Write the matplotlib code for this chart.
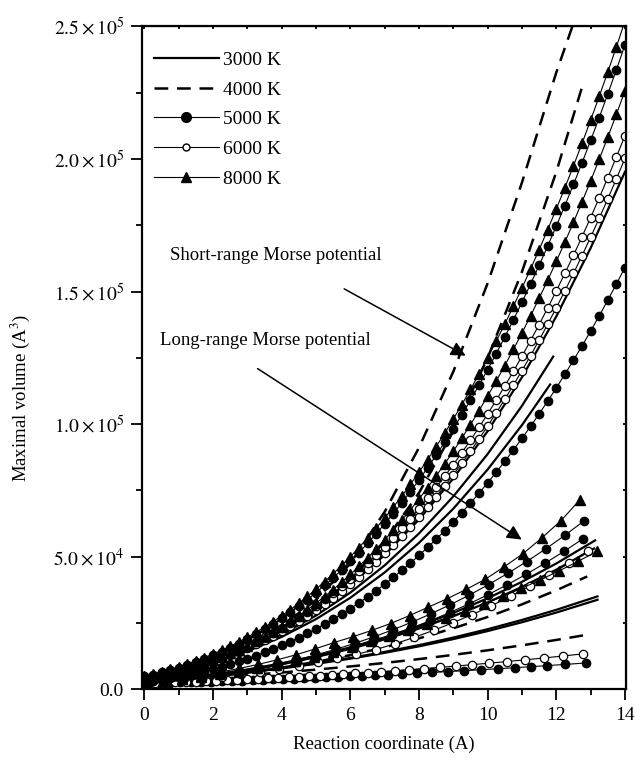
import numpy as np
import matplotlib.pyplot as plt
from matplotlib.lines import Line2D

plt.rcParams['font.family'] = ['Liberation Serif', 'DejaVu Serif']
plt.rcParams['mathtext.fontset'] = 'stix'

# ---------------- data ----------------
# short-range Morse potential (upper bundle)
x_up = np.arange(0, 14.01, 0.25)

up_tri_1 = [5000, 5757, 6587, 7492, 8477, 9545, 10699, 11942, 13278, 14711, 16242, 17877,
            19617, 21468, 23431, 25510, 27708, 30029, 32477, 35054, 37764, 40610, 43595,
            46724, 49999, 53423, 57000, 60733, 64626, 68682, 72904, 77295, 81860, 86600,
            91520, 96623, 101913, 107392, 113064, 118932, 125000, 131271, 137748, 144435,
            151334, 158448, 165786, 173345, 181130, 189144, 197391, 205876, 214599, 223566,
            232779, 242243, 251957]
up_fill_1 = [4827, 5557, 6357, 7231, 8181, 9212, 10325, 11524, 12813, 14195, 15672, 17248,
             18927, 20712, 22605, 24610, 26731, 28970, 31330, 33816, 36429, 39174, 42053,
             45070, 48229, 51531, 54980, 58580, 62335, 66246, 70317, 74552, 78954, 83525,
             88270, 93191, 98291, 103575, 109044, 114703, 120554, 126601, 132846, 139294,
             145947, 152809, 159882, 167170, 174677, 182405, 190358, 198536, 206949, 215595,
             224478, 233603, 242971]
up_tri_2 = [3944, 4578, 5277, 6044, 6881, 7792, 8780, 9849, 11000, 12239, 13566, 14987,
            16503, 18119, 19837, 21659, 23590, 25633, 27790, 30066, 32462, 34982, 37629,
            40407, 43317, 46365, 49552, 52882, 56358, 59983, 63760, 67693, 71784, 76036,
            80454, 85039, 89795, 94725, 99833, 105121, 110592, 116250, 122098, 128138,
            134375, 140811, 147449, 154293, 161344, 168608, 176087, 183787, 191701, 199843,
            208211, 216811, 225644]
up_open_1 = [4252, 4887, 5583, 6342, 7167, 8060, 9025, 10064, 11179, 12375, 13652, 15014,
             16465, 18005, 19639, 21369, 23198, 25128, 27162, 29304, 31554, 33918, 36396,
             38993, 41710, 44550, 47517, 50612, 53839, 57200, 60698, 64336, 68117, 72043,
             76117, 80342, 84720, 89255, 93948, 98803, 103823, 109010, 114367, 119896,
             125601, 131484, 137548, 143795, 150230, 156852, 163667, 170677, 177884, 185291,
             192900, 200715, 208739]
up_open_2 = [3944, 4543, 5200, 5918, 6698, 7544, 8458, 9444, 10503, 11639, 12854, 14151,
             15531, 16999, 18557, 20207, 21952, 23795, 25738, 27784, 29935, 32195, 34566,
             37051, 39652, 42371, 45213, 48179, 51272, 54494, 57848, 61338, 64965, 68732,
             72642, 76698, 80902, 85257, 89765, 94429, 99253, 104238, 109387, 114703,
             120188, 125846, 131678, 137688, 143878, 150251, 156809, 163555, 170492, 177623,
             184949, 192474, 200202]
up_fill_low = [2744, 3188, 3677, 4214, 4801, 5440, 6133, 6884, 7692, 8562, 9494, 10493,
               11558, 12694, 13902, 15184, 16542, 17980, 19498, 21099, 22785, 24560, 26424,
               28380, 30430, 32576, 34822, 37168, 39617, 42171, 44834, 47605, 50489, 53487,
               56601, 59834, 63188, 66664, 70266, 73995, 77854, 81846, 85971, 90232, 94632,
               99172, 103856, 108685, 113661, 118787, 124065, 129497, 135085, 140831, 146738,
               152809, 159044]

x_dash_a = [0, 1, 2, 3, 4, 5, 6, 7, 8, 9, 10, 11, 12, 12.6]
up_dash_a = [4492, 7415, 11391, 16777, 23888, 33698, 47438, 66923, 91125, 119823, 153130,
             191103, 232608, 254840]
x_dash_b = [0, 1, 2, 3, 4, 5, 6, 7, 8, 9, 10, 11, 12, 12.8]
up_dash_b = [4492, 7301, 11090, 16003, 22188, 30371, 41422, 55742, 74088, 97336, 125000,
             157464, 195112, 229225]
x_solid_1 = [0, 1, 2, 3, 4, 5, 6, 7, 8, 9, 10, 11, 12, 13, 14]
up_solid_1 = [4096, 6859, 10648, 15625, 21952, 29791, 39304, 50653, 64000, 79507, 97336,
              117649, 140608, 166375, 195112]
x_solid_2 = [0, 1, 2, 3, 4, 5, 6, 7, 8, 9, 10, 11, 11.91]
up_solid_2 = [4096, 6709, 10246, 14851, 20661, 27818, 36462, 46735, 58774, 72721, 88717,
              106901, 125451]
x_solid_3 = [0, 1, 2, 3, 4, 5, 6, 7, 8, 9, 10, 11, 11.82]
up_solid_3 = [4096, 6602, 9966, 14314, 19771, 26464, 34518, 44061, 55219, 68117, 82882,
              99636, 114935]

# long-range Morse potential (lower bundle)
x_lo_tri_1 = np.linspace(0, 12.69, 24)
lo_tri_1 = [2200, 3000, 4000, 5180, 6500, 7850, 9370, 11100, 13000, 15200, 17600, 19800,
            22200, 24800, 27800, 31000, 34200, 37700, 41500, 46200, 51200, 57200, 63600, 71500]
x_lo_fill_1 = np.linspace(0, 12.81, 24)
lo_fill_1 = [2197, 2845, 3610, 4500, 5526, 6698, 8024, 9514, 11179, 13027, 15069, 17313,
             19770, 22450, 25360, 28512, 31915, 35547, 39477, 43689, 48189, 52988, 58094, 63521]
x_lo_fill_2 = np.linspace(0, 12.78, 24)
lo_fill_2 = [2197, 2807, 3520, 4344, 5289, 6361, 7570, 8923, 10426, 12091, 13924, 15935,
             18129, 20515, 23103, 25900, 28915, 32155, 35625, 39339, 43302, 47524, 52013, 56774]
x_lo_open_1 = np.linspace(0, 12.92, 24)
lo_open_1 = [2197, 2726, 3328, 4020, 4793, 5668, 6645, 7716, 8908, 10205, 11636, 13195,
             14978, 17173, 19596, 22235, 25076, 28178, 31524, 35094, 38958, 43095, 47518, 52188]
x_lo_tri_2 = np.linspace(0, 13.18, 25)
lo_tri_2 = [2460, 3093, 3818, 4657, 5602, 6677, 7869, 9208, 10677, 12310, 14085, 16041,
            18088, 20057, 22188, 24440, 26838, 29389, 32127, 34997, 38035, 41278, 44663,
            48229, 51979]

x_lo_solid_1 = [0, 1, 2, 3, 4, 5, 6, 7, 8, 9, 10, 11, 12, 13.13]
lo_solid_1 = [2744, 3982, 5545, 7472, 9800, 12568, 15813, 19574, 23888, 28794, 34328, 40530,
              47438, 56137]
x_lo_solid_2 = [0, 1, 2, 3, 4, 5, 6, 7, 8, 9, 10, 11, 12, 13.1]
lo_solid_2 = [2744, 3944, 5452, 7301, 9528, 12167, 15253, 18821, 22906, 27544, 32768, 38614,
              45118, 53073]
x_lo_dash_1 = [0, 1, 2, 3, 4, 5, 6, 7, 8, 9, 10, 11, 12, 12.9]
lo_dash_1 = [2460, 3484, 4759, 6311, 8169, 10360, 12912, 15851, 19206, 23003, 27271, 32036,
             37327, 42545]
x_lo_solid_3 = [0, 1, 2, 3, 4, 5, 6, 7, 8, 9, 10, 11, 12, 13.2]
lo_solid_3 = [3049, 4005, 5142, 6476, 8024, 9800, 11821, 14102, 16660, 19508, 22665, 26146,
              29965, 35029]
lo_solid_4 = [3049, 3982, 5088, 6383, 7881, 9596, 11543, 13738, 16194, 18927, 21952, 25283,
              28934, 33761]
x_lo_dash_2 = [0, 1, 2, 3, 4, 5, 6, 7, 8, 9, 10, 11, 12, 12.95]
lo_dash_2 = [3049, 3724, 4492, 5359, 6332, 7415, 8615, 9938, 11391, 12978, 14706, 16581,
             18610, 20684]

x_lo_open_b = [0.0, 0.3, 0.6, 0.9, 1.2, 1.5, 1.8, 2.1, 2.4, 2.7, 3.0, 3.3, 3.6, 3.9, 4.2, 4.5,
               4.81, 5.13, 5.46, 5.8, 6.15, 6.52, 6.9, 7.3, 7.72, 8.15, 8.6, 9.07, 9.55, 10.05,
               10.55, 11.1, 11.65, 12.2, 12.78]
lo_open_b = [2197, 2327, 2463, 2603, 2749, 2900, 3056, 3218, 3386, 3559, 3738, 3923, 4115,
             4312, 4515, 4725, 4948, 5186, 5439, 5708, 5995, 6308, 6641, 7003, 7398, 7817,
             8272, 8765, 9290, 9859, 10449, 11126, 11830, 12565, 13372]
x_lo_fill_b = [0.15, 0.45, 0.75, 1.05, 1.35, 1.65, 1.95, 2.25, 2.55, 2.85, 3.15, 3.45, 3.75,
               4.05, 4.35, 4.65, 4.97, 5.3, 5.63, 5.98, 6.34, 6.71, 7.1, 7.51, 7.94, 8.38,
               8.84, 9.31, 9.8, 10.3, 10.8, 11.25, 11.72, 12.25, 12.87]
lo_fill_b = [2248, 2351, 2458, 2567, 2681, 2797, 2916, 3039, 3166, 3295, 3429, 3565, 3706,
             3850, 3998, 4149, 4315, 4491, 4671, 4867, 5074, 5295, 5532, 5791, 6068, 6364,
             6681, 7017, 7378, 7760, 8154, 8521, 8914, 9374, 9930]

legend_labels = ['3000 K', '4000 K', '5000 K', '6000 K', '8000 K']
y_ticks = [0, 50000, 100000, 150000, 200000, 250000]
y_minor = [25000, 75000, 125000, 175000, 225000]
y_tick_labels = ['0.0', r'$5.0\times10^4$', r'$1.0\times10^5$', r'$1.5\times10^5$',
                 r'$2.0\times10^5$', r'$2.5\times10^5$']

# ---------------- styles ----------------
solid = dict(color='k', lw=1.6, ls='-')
dashed = dict(color='k', lw=1.8, ls=(0, (5.5, 3.5)))
filled = dict(color='k', lw=0.8, marker='o', ms=6, mfc='k', mec='k')
opened = dict(color='k', lw=0.8, marker='o', ms=6, mfc='white', mec='k', mew=0.9)
tri = dict(color='k', lw=0.8, marker='^', ms=6.5, mfc='k', mec='k')

fig = plt.figure(figsize=(6.35, 7.63), dpi=100)
ax = fig.add_axes([0.2236, 0.0966, 0.7622, 0.8689])

# lower bundle
ax.plot(x_lo_dash_2, lo_dash_2, **dashed)
ax.plot(x_lo_solid_3, lo_solid_3, **solid)
ax.plot(x_lo_solid_3, lo_solid_4, **solid)
ax.plot(x_lo_dash_1, lo_dash_1, **dashed)
ax.plot(x_lo_solid_1, lo_solid_1, **solid)
ax.plot(x_lo_solid_2, lo_solid_2, **solid)
ax.plot(x_lo_fill_b, lo_fill_b, **filled)
ax.plot(x_lo_open_b, lo_open_b, **opened)
ax.plot(x_lo_open_1, lo_open_1, **opened)
ax.plot(x_lo_tri_2, lo_tri_2, **tri)
ax.plot(x_lo_fill_2, lo_fill_2, **filled)
ax.plot(x_lo_fill_1, lo_fill_1, **filled)
ax.plot(x_lo_tri_1, lo_tri_1, **tri)

# upper bundle
ax.plot(x_up, up_fill_low, **filled)
ax.plot(x_solid_3, up_solid_3, **solid)
ax.plot(x_solid_2, up_solid_2, **solid)
ax.plot(x_solid_1, up_solid_1, **solid)
ax.plot(x_up, up_open_2, **opened)
ax.plot(x_up, up_open_1, **opened)
ax.plot(x_up, up_tri_2, **tri)
ax.plot(x_up, up_fill_1, **filled)
ax.plot(x_up, up_tri_1, **tri)
ax.plot(x_dash_b, up_dash_b, **dashed)
ax.plot(x_dash_a, up_dash_a, **dashed)

# annotations
ax.text(0.75, 163700, 'Short-range Morse potential', fontsize=13.5, va='center', ha='left')
ax.annotate('', xy=(9.43, 125300), xytext=(5.75, 151500),
            arrowprops=dict(arrowstyle='-|>', color='k', lw=1.1, mutation_scale=22))
ax.text(0.46, 131700, 'Long-range Morse potential', fontsize=13.5, va='center', ha='left')
ax.annotate('', xy=(11.06, 55900), xytext=(3.23, 121500),
            arrowprops=dict(arrowstyle='-|>', color='k', lw=1.1, mutation_scale=22))

# legend
handles = [Line2D([], [], **solid), Line2D([], [], **dashed),
           Line2D([], [], color='k', lw=0.8, marker='o', ms=7, mfc='k', mec='k'),
           Line2D([], [], color='k', lw=0.8, marker='o', ms=5, mfc='white', mec='k'),
           Line2D([], [], color='k', lw=0.8, marker='^', ms=6.5, mfc='k', mec='k')]
ax.legend(handles, legend_labels, loc='upper left', bbox_to_anchor=(0.0, 0.98),
          frameon=False, fontsize=14, handlelength=3.35, handletextpad=0.2,
          labelspacing=0.62, borderaxespad=0.2)

# axes
ax.set_xlim(-0.07, 14.03)
ax.set_ylim(0, 250000)
ax.set_xticks(range(0, 15, 2))
ax.set_xticks(range(1, 15, 2), minor=True)
ax.set_yticks(y_ticks)
ax.set_yticklabels(y_tick_labels)
ax.set_yticks(y_minor, minor=True)
ax.tick_params(which='both', direction='out', width=1.3, labelsize=14, pad=5)
ax.tick_params(which='major', length=8)
ax.tick_params(which='minor', length=4)
for s in ax.spines.values():
    s.set_linewidth(1.6)

top = ax.secondary_xaxis('top')
top.set_xticks(range(0, 15, 2))
top.set_xticks(range(1, 15, 2), minor=True)
top.tick_params(which='both', direction='in', labeltop=False, width=1.3, length=2.5)
right = ax.secondary_yaxis('right')
right.set_yticks(y_ticks)
right.set_yticks(y_minor, minor=True)
right.tick_params(which='both', direction='in', labelright=False, width=1.3, length=2.5)

ax.set_xlabel('Reaction coordinate (A)', fontsize=13.5, labelpad=8)
ax.set_ylabel(r'Maximal volume (A$^3$)', fontsize=13.5)
ax.yaxis.set_label_coords(-0.228, 0.44)

fig.savefig('out.png', dpi=100)
